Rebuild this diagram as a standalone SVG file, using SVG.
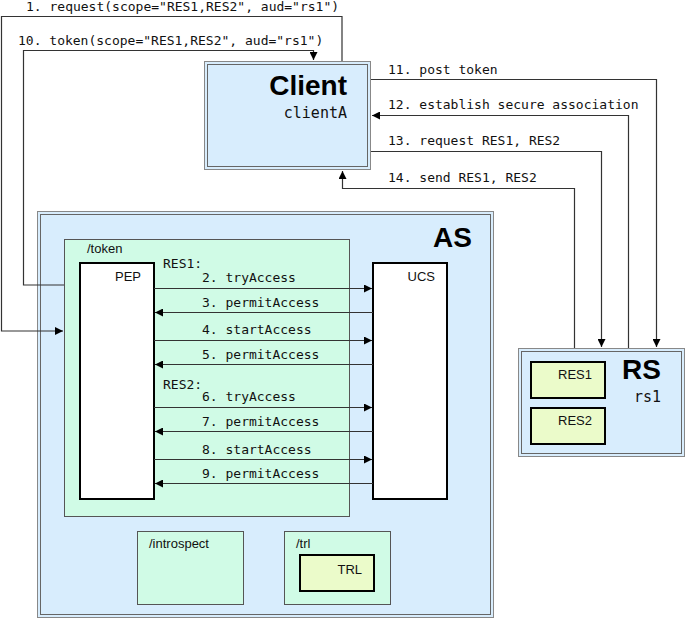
<svg xmlns="http://www.w3.org/2000/svg" width="685" height="622" viewBox="0 0 685 622">
<style>
.mono{font-family:"DejaVu Sans Mono","Liberation Mono",monospace;font-size:13px;fill:#111}
.sans{font-family:"Liberation Sans",Arial,sans-serif;font-size:13px;fill:#111}
.big{font-family:"Liberation Sans",Arial,sans-serif;font-size:28px;font-weight:bold;fill:#000}
.sub{font-family:"DejaVu Sans Mono","Liberation Mono",monospace;font-size:15px;fill:#111}
.outer{fill:#d8edfd;stroke:#888;stroke-width:1}
.inner{fill:none;stroke:#666;stroke-width:1}
.ep{fill:#d0fbe6;stroke:#555;stroke-width:1}
.box{fill:#fff;stroke:#000;stroke-width:2}
.res{fill:#ebfbca;stroke:#000;stroke-width:2}
.c{fill:none;stroke:#333;stroke-width:1.2}
</style>
<defs>
<marker id="a" viewBox="0 0 10 10" refX="10" refY="5" markerWidth="8" markerHeight="8" markerUnits="userSpaceOnUse" orient="auto">
<path d="M0,0 L10,5 L0,10 z" fill="#000"/>
</marker>
</defs>

<g id="AS">
<rect class="outer" x="37.5" y="211.5" width="456" height="406"/>
<rect class="inner" x="40.5" y="214.5" width="450" height="400"/>
<text class="big" x="472" y="247" text-anchor="end">AS</text>
</g>
<g id="token">
<rect class="ep" x="64.5" y="239.5" width="285" height="277"/>
<text class="sans" x="87" y="253">/token</text>
</g>
<g id="PEP">
<rect class="box" x="80" y="263" width="74" height="236"/>
<text class="sans" x="141" y="281" text-anchor="end">PEP</text>
</g>
<g id="UCS">
<rect class="box" x="373" y="263" width="74" height="236"/>
<text class="sans" x="435" y="281" text-anchor="end">UCS</text>
</g>
<g id="introspect">
<rect class="ep" x="137.5" y="531.5" width="106" height="73"/>
<text class="sans" x="149" y="548">/introspect</text>
</g>
<g id="trl">
<rect class="ep" x="284.5" y="531.5" width="106" height="73"/>
<text class="sans" x="296" y="548">/trl</text>
</g>
<g id="TRL">
<rect class="res" x="300" y="555" width="74" height="36"/>
<text class="sans" x="362" y="574" text-anchor="end">TRL</text>
</g>
<g id="Client">
<rect class="outer" x="204.5" y="61.5" width="166" height="108"/>
<rect class="inner" x="207.5" y="64.5" width="160" height="102"/>
<text class="big" x="347" y="95" text-anchor="end">Client</text>
<text class="sub" x="347" y="118" text-anchor="end">clientA</text>
</g>
<g id="RS">
<rect class="outer" x="518.5" y="348.5" width="166" height="108"/>
<rect class="inner" x="521.5" y="351.5" width="160" height="102"/>
<text class="big" x="661" y="379" text-anchor="end">RS</text>
<text class="sub" x="661" y="402" text-anchor="end">rs1</text>
</g>
<g id="RES1">
<rect class="res" x="531" y="362" width="74" height="36"/>
<text class="sans" x="592" y="379" text-anchor="end">RES1</text>
</g>
<g id="RES2">
<rect class="res" x="531" y="408" width="74" height="36"/>
<text class="sans" x="592" y="425" text-anchor="end">RES2</text>
</g>

<g id="connectors">
<path class="c" d="M342,61 V16.5 H1.5 V331 H63" marker-end="url(#a)"/>
<path class="c" d="M64,285 H23.5 V50.5 H313.5 V60" marker-end="url(#a)"/>
<path class="c" d="M371,79.5 H656.5 V347" marker-end="url(#a)"/>
<path class="c" d="M628.5,348 V115.5 H372" marker-end="url(#a)"/>
<path class="c" d="M371,151.5 H601.5 V347" marker-end="url(#a)"/>
<path class="c" d="M574.5,348 V188.5 H342.5 V171" marker-end="url(#a)"/>
<path class="c" d="M154,288.5 H372"  marker-end="url(#a)"/>
<path class="c" d="M373,312.5 H155" marker-end="url(#a)"/>
<path class="c" d="M154,340.5 H372" marker-end="url(#a)"/>
<path class="c" d="M373,364.5 H155" marker-end="url(#a)"/>
<path class="c" d="M154,407.5 H372" marker-end="url(#a)"/>
<path class="c" d="M373,431.5 H155" marker-end="url(#a)"/>
<path class="c" d="M154,459.5 H372" marker-end="url(#a)"/>
<path class="c" d="M373,483.5 H155" marker-end="url(#a)"/>
</g>

<g id="labels">
<text class="mono" x="26" y="11">1. request(scope="RES1,RES2", aud="rs1")</text>
<text class="mono" x="18" y="45">10. token(scope="RES1,RES2", aud="rs1")</text>
<text class="mono" x="388" y="74">11. post token</text>
<text class="mono" x="388" y="109">12. establish secure association</text>
<text class="mono" x="388" y="145">13. request RES1, RES2</text>
<text class="mono" x="388" y="182">14. send RES1, RES2</text>
<text class="mono" x="163" y="268">RES1:</text>
<text class="mono" x="202" y="282">2. tryAccess</text>
<text class="mono" x="202" y="307">3. permitAccess</text>
<text class="mono" x="202" y="334">4. startAccess</text>
<text class="mono" x="202" y="359">5. permitAccess</text>
<text class="mono" x="163" y="389">RES2:</text>
<text class="mono" x="202" y="401">6. tryAccess</text>
<text class="mono" x="202" y="426">7. permitAccess</text>
<text class="mono" x="202" y="454">8. startAccess</text>
<text class="mono" x="202" y="478">9. permitAccess</text>
</g>
</svg>
